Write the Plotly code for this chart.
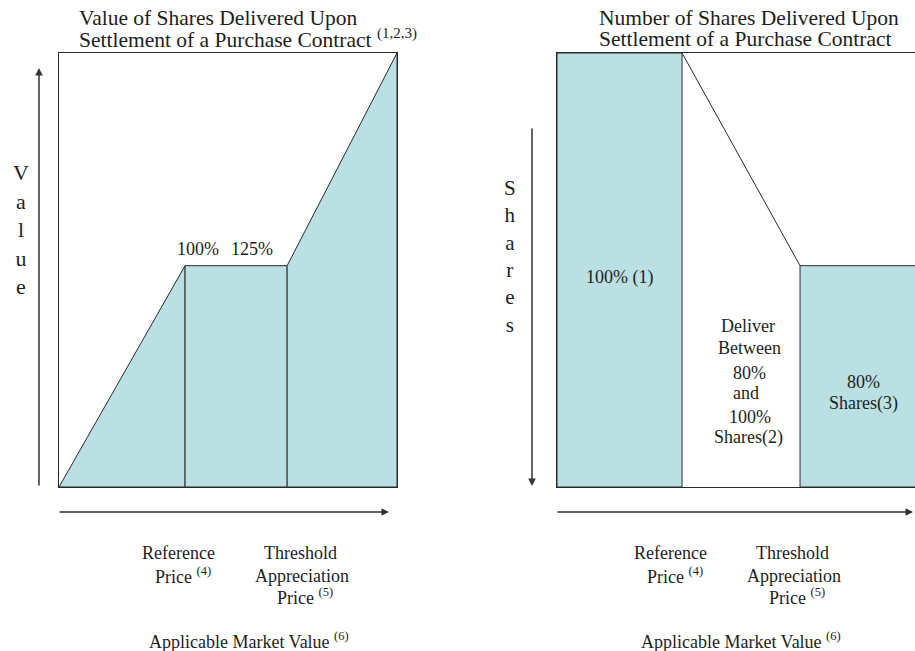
import plotly.graph_objects as go

# ---------------- data (schematic units) ----------------
# Left panel: value of shares delivered vs applicable market value
value_x = [0, 37.3, 67.5, 100]        # start, reference price, threshold appreciation price, end
value_y = [0, 51, 51, 100]            # value at each breakpoint
value_labels = ["100%", "125%"]

# Right panel: number of shares delivered vs applicable market value
shares_x = [0, 37.0, 71.9, 110]       # start, reference price, threshold appreciation price, end (cropped)
shares_y = [100, 100, 51, 51]         # shares delivered at each breakpoint
shares_labels = ["100% (1)", ["Deliver", "Between", "80%", "and", "100%", "Shares(2)"], ["80%", "Shares(3)"]]

left_title = ["Value of Shares Delivered Upon", "Settlement of a Purchase Contract <sup>(1,2,3)</sup>"]
right_title = ["Number of Shares Delivered Upon", "Settlement of a Purchase Contract"]
x_tick_labels = [["Reference", "Price <sup>(4)</sup>"], ["Threshold", "Appreciation", "Price <sup>(5)</sup>"]]
x_title = "Applicable Market Value <sup>(6)</sup>"

# ---------------- styles ----------------
W, H = 915, 651
FILL = "#bbe0e3"
LINE = "#2a2a2a"
TXT = "#1e1e1e"
FONT = "Liberation Serif"


def px(x):
    return x / W


def py(y):
    return 1 - y / H


fig = go.Figure()

# left panel polygons
l1 = dict(x=[value_x[0], value_x[1], value_x[1], value_x[0]], y=[value_y[0], value_y[1], 0, 0])
l2 = dict(x=[value_x[1], value_x[1], value_x[2], value_x[2], value_x[1]], y=[0, value_y[1], value_y[2], 0, 0])
l3 = dict(x=[value_x[2], value_x[2], value_x[3], value_x[3], value_x[2]], y=[0, value_y[2], value_y[3], 0, 0])
for seg in (l1, l2, l3):
    fig.add_trace(go.Scatter(x=seg["x"], y=seg["y"], mode="lines", fill="toself", fillcolor=FILL,
                             line=dict(color=LINE, width=1), xaxis="x", yaxis="y",
                             hoverinfo="skip", showlegend=False))

# right panel polygons
r1 = dict(x=[shares_x[0], shares_x[0], shares_x[1], shares_x[1], shares_x[0]],
          y=[0, shares_y[0], shares_y[1], 0, 0])
r3 = dict(x=[shares_x[2], shares_x[2], shares_x[3], shares_x[3], shares_x[2]],
          y=[0, shares_y[2], shares_y[3], 0, 0])
for seg in (r1, r3):
    fig.add_trace(go.Scatter(x=seg["x"], y=seg["y"], mode="lines", fill="toself", fillcolor=FILL,
                             line=dict(color=LINE, width=1), xaxis="x2", yaxis="y2",
                             hoverinfo="skip", showlegend=False))
fig.add_trace(go.Scatter(x=shares_x[1:3], y=shares_y[1:3], mode="lines",
                         line=dict(color=LINE, width=1), xaxis="x2", yaxis="y2",
                         hoverinfo="skip", showlegend=False))

ydom = [py(487), py(53)]
axis_common = dict(showgrid=False, zeroline=False, showticklabels=False, ticks="",
                   linecolor=LINE, linewidth=1.2, fixedrange=True)
fig.update_layout(
    width=W, height=H, margin=dict(l=0, r=0, t=0, b=0),
    paper_bgcolor="white", plot_bgcolor="white", showlegend=False,
    xaxis=dict(domain=[px(59), px(397)], range=[0, 100], showline=True, mirror=True, anchor="y", **axis_common),
    yaxis=dict(domain=ydom, range=[0, 100], showline=True, mirror=True, anchor="x", **axis_common),
    xaxis2=dict(domain=[px(557), 1], range=[0, (915 - 557) / 3.38], showline=True, mirror=True, anchor="y2", **axis_common),
    yaxis2=dict(domain=ydom, range=[0, 100], showline=True, mirror=False, anchor="x2", **axis_common),
)

ann = []


def text(t, x, y, size=18, xanchor="center"):
    ann.append(dict(text=t, x=px(x), y=py(y), xref="paper", yref="paper", showarrow=False,
                    xanchor=xanchor, yanchor="middle", font=dict(family=FONT, size=size, color=TXT)))


# titles
text(left_title[0], 77, 18, 21.5, "left")
text(left_title[1], 77, 39, 21.5, "left")
text(right_title[0], 597, 18, 21.5, "left")
text(right_title[1], 597, 39, 21.5, "left")

# vertical axis words
text("<br>".join("Value"), 21, 229, 22)
text("<br>".join("Shares"), 510, 256, 21)

# left panel labels
text(value_labels[0], 198, 249)
text(value_labels[1], 252, 249)

# right panel labels
text(shares_labels[0], 619, 277)
for t, (x, y) in zip(shares_labels[1], [(748, 326), (749, 348), (749, 373), (746, 393), (750, 417), (748, 437)]):
    text(t, x, y)
for t, (x, y) in zip(shares_labels[2], [(863, 382), (863, 403)]):
    text(t, x, y)

# bottom labels
for off in (0, 492):
    for t, (x, y) in zip(x_tick_labels[0], [(178, 553), (183, 575)]):
        text(t, x + off, y)
    for t, (x, y) in zip(x_tick_labels[1], [(300, 553), (302, 576), (305, 596)]):
        text(t, x + off, y)
    text(x_title, 249 + off, 640)


# arrows
def arrow(hx, hy, tx, ty):
    ann.append(dict(x=px(hx), y=py(hy), xref="paper", yref="paper", ax=tx - hx, ay=ty - hy,
                    axref="pixel", ayref="pixel", showarrow=True, arrowhead=2, arrowsize=1,
                    arrowwidth=1.5, arrowcolor="#333333", text=""))


arrow(39, 68, 39, 487)
arrow(532, 486, 532, 127)
arrow(389, 512, 58, 512)
arrow(913, 512, 556, 512)

fig.update_layout(annotations=ann)
fig.write_html("out.html", config={"displayModeBar": False},
               post_script="document.body.style.margin='0';document.body.style.overflow='hidden';")
